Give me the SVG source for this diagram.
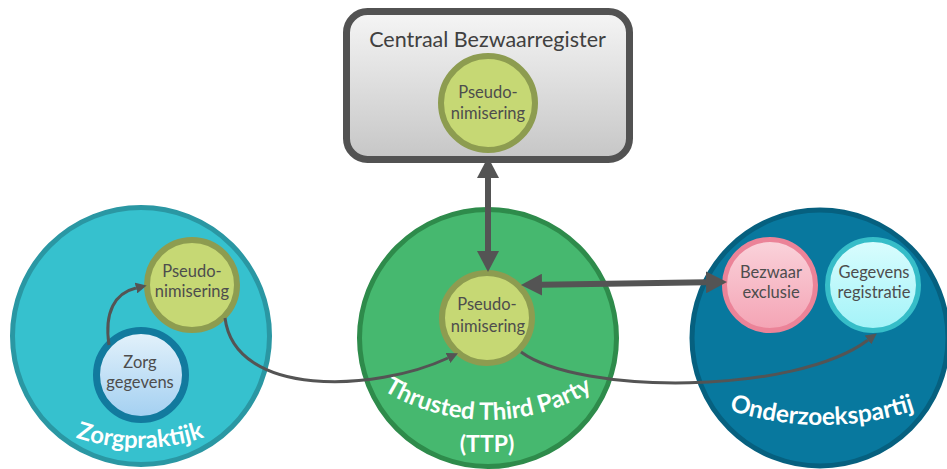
<svg xmlns="http://www.w3.org/2000/svg" width="947" height="469" viewBox="0 0 947 469">
  <style>
    .lbl { font-family: Lato, "Liberation Sans", sans-serif; font-size: 16.5px; fill: #4d4d4d; text-anchor: middle; }
    .title { font-family: Lato, "Liberation Sans", sans-serif; font-size: 21.5px; fill: #404040; text-anchor: middle; }
    .big { font-family: Lato, "Liberation Sans", sans-serif; font-weight: bold; font-size: 24px; fill: #ffffff; text-anchor: middle; }
    .pseudo { fill: #c6d874; stroke: #8d9c50; stroke-width: 6; }
    .conn-thick { fill: none; stroke: #545454; stroke-width: 6; }
    .conn-thin { fill: none; stroke: #545454; stroke-width: 3; }
  </style>
  <defs>
    <linearGradient id="boxGrad" x1="0" y1="0" x2="0" y2="1">
      <stop offset="0" stop-color="#f5f5f5"/>
      <stop offset="1" stop-color="#c6c6c6"/>
    </linearGradient>
    <linearGradient id="zorgGrad" x1="0" y1="0" x2="0" y2="1">
      <stop offset="0" stop-color="#e4f2fb"/>
      <stop offset="1" stop-color="#a2cff1"/>
    </linearGradient>
    <linearGradient id="bezGrad" x1="0" y1="0" x2="0" y2="1">
      <stop offset="0" stop-color="#fad3db"/>
      <stop offset="1" stop-color="#f4a3b4"/>
    </linearGradient>
    <linearGradient id="gegGrad" x1="0" y1="0" x2="0" y2="1">
      <stop offset="0" stop-color="#dafdfe"/>
      <stop offset="1" stop-color="#a3f3f8"/>
    </linearGradient>
    <marker id="headThick" viewBox="0 -11 21 22" refX="0" refY="0" markerWidth="21" markerHeight="22" markerUnits="userSpaceOnUse" orient="auto-start-reverse">
      <path d="M0,-11 L21,0 L0,11 z" fill="#545454"/>
    </marker>
    <marker id="headThin" viewBox="0 -5.5 11 11" refX="0" refY="0" markerWidth="11" markerHeight="11" markerUnits="userSpaceOnUse" orient="auto">
      <path d="M0,-5.5 L11,0 L0,5.5 z" fill="#545454"/>
    </marker>
    <path id="zorgArc" d="M-60,248 A200,200 0 0 0 340,248"/>
    <path id="ttpArc" d="M288,220 A200,200 0 0 0 688,220"/>
    <path id="onderArc" d="M522,125 A300,300 0 0 0 1122,125"/>
  </defs>

  <g id="node-centraal-bezwaarregister">
    <rect x="346.5" y="11.5" width="283" height="148" rx="21" ry="21" fill="url(#boxGrad)" stroke="#525252" stroke-width="7"/>
    <text class="title" x="487.5" y="47">Centraal Bezwaarregister</text>
  </g>
  <g id="node-cbr-pseudonimisering">
    <circle class="pseudo" cx="488" cy="103" r="47"/>
    <text class="lbl" x="488" y="98">Pseudo-</text>
    <text class="lbl" x="488" y="119">nimisering</text>
  </g>

  <g id="node-zorgpraktijk">
    <circle cx="141" cy="336" r="128.5" fill="#36c1ce" stroke="#2a97a3" stroke-width="5"/>
    <text class="big"><textPath href="#zorgArc" startOffset="50%">Zorgpraktijk</textPath></text>
  </g>
  <g id="node-zorg-pseudonimisering">
    <circle class="pseudo" cx="192" cy="285" r="45"/>
    <text class="lbl" x="192" y="277">Pseudo-</text>
    <text class="lbl" x="192" y="297">nimisering</text>
  </g>
  <g id="node-zorg-gegevens">
    <circle cx="141" cy="375" r="44.5" fill="url(#zorgGrad)" stroke="#127a9e" stroke-width="7"/>
    <text class="lbl" x="140" y="368">Zorg</text>
    <text class="lbl" x="140" y="388">gegevens</text>
  </g>

  <g id="node-ttp">
    <circle cx="488" cy="338" r="128.5" fill="#46b86f" stroke="#2e8b4b" stroke-width="5"/>
    <text class="big"><textPath href="#ttpArc" startOffset="50%">Thrusted Third Party</textPath></text>
    <text class="big" x="487" y="452" style="font-size:23px">(TTP)</text>
  </g>
  <g id="node-ttp-pseudonimisering">
    <circle class="pseudo" cx="487" cy="318" r="45"/>
    <text class="lbl" x="487" y="310">Pseudo-</text>
    <text class="lbl" x="488" y="332">nimisering</text>
  </g>

  <g id="node-onderzoekspartij">
    <circle cx="820" cy="338" r="128" fill="#08789e" stroke="#06607f" stroke-width="5"/>
    <text class="big" style="font-size:24.5px"><textPath href="#onderArc" startOffset="50%">Onderzoekspartij</textPath></text>
  </g>
  <g id="node-bezwaar-exclusie">
    <circle cx="770" cy="285" r="45.5" fill="url(#bezGrad)" stroke="#eb8398" stroke-width="5"/>
    <text class="lbl" x="771" y="278">Bezwaar</text>
    <text class="lbl" x="771" y="298">exclusie</text>
  </g>
  <g id="node-gegevens-registratie">
    <circle cx="873" cy="285" r="45.5" fill="url(#gegGrad)" stroke="#36bdc8" stroke-width="5"/>
    <text class="lbl" x="874" y="278">Gegevens</text>
    <text class="lbl" x="874" y="298">registratie</text>
  </g>

  <g id="connectors">
    <path class="conn-thick" d="M488,178 L488,251" marker-start="url(#headThick)" marker-end="url(#headThick)"/>
    <path class="conn-thick" d="M542,284.7 L706,282.3" marker-start="url(#headThick)" marker-end="url(#headThick)"/>
    <path class="conn-thin" d="M225,318 C235,398 375,392 448,358" marker-end="url(#headThin)"/>
    <path class="conn-thin" d="M521,352 C580,395 795,395 868,340" marker-end="url(#headThin)"/>
    <path class="conn-thin" d="M109,345 C104,312 115,293 136,288" marker-end="url(#headThin)"/>
  </g>
</svg>
